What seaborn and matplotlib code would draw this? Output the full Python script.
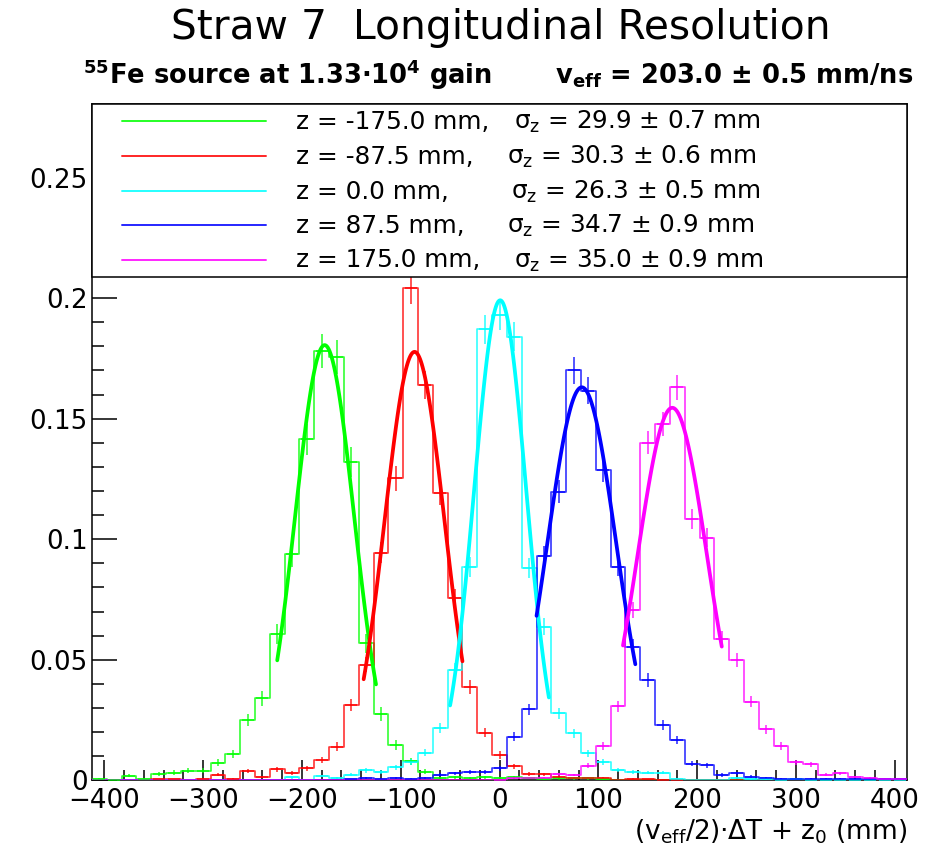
import numpy as np
import pandas as pd
import matplotlib
matplotlib.use("Agg")
import matplotlib.pyplot as plt
import seaborn as sns
from matplotlib.ticker import MultipleLocator, FixedLocator, FixedFormatter
from matplotlib.patches import Rectangle
from matplotlib.lines import Line2D

# ---------------- data ----------------
bin_low, bin_high, n_bins = -412.5, 412.5, 55

z_positions = [-175.0, -87.5, 0.0, 87.5, 175.0]
series_colors = ["#00ff00", "#ff0000", "#00ffff", "#0000ff", "#ff00ff"]

green_vals = [0.0007, 0.0003, 0.0019, 0.0007, 0.0026, 0.0032, 0.0040, 0.0040, 0.0073, 0.0110,
              0.0250, 0.0340, 0.0605, 0.0937, 0.1414, 0.1780, 0.1757, 0.1320, 0.0568, 0.0274,
              0.0145, 0.0078, 0.0035, 0.0008, 0.0012, 0.0010, 0.0012, 0.0010, 0.0012, 0.0010,
              0.0005, 0.0008, 0.0008, 0.0008, 0.0006, 0.0, 0.0, 0.0, 0.0, 0.0,
              0.0, 0.0, 0.0, 0.0, 0.0, 0.0, 0.0, 0.0, 0.0, 0.0,
              0.0, 0.0, 0.0, 0.0, 0.0]
red_vals = [0.0, 0.0, 0.0, 0.0, 0.0004, 0.0004, 0.0, 0.0007, 0.0023, 0.0007,
            0.0037, 0.0013, 0.0046, 0.0032, 0.0050, 0.0083, 0.0140, 0.0312, 0.0480, 0.0944,
            0.1252, 0.2040, 0.1640, 0.1190, 0.0755, 0.0388, 0.0198, 0.0105, 0.0058, 0.0026,
            0.0025, 0.0015, 0.0010, 0.0010, 0.0010, 0.0, 0.0007, 0.0004, 0.0003, 0.0003,
            0.0, 0.0, 0.0, 0.0, 0.0, 0.0, 0.0, 0.0, 0.0, 0.0,
            0.0, 0.0, 0.0, 0.0, 0.0]
cyan_vals = [0.0, 0.0, 0.0, 0.0, 0.0, 0.0, 0.0, 0.0, 0.0, 0.0,
             0.0, 0.0, 0.0, 0.0012, 0.0, 0.0018, 0.0008, 0.0023, 0.0041, 0.0036,
             0.0055, 0.0077, 0.0115, 0.0216, 0.0457, 0.0886, 0.1870, 0.1930, 0.1840, 0.0879,
             0.0637, 0.0278, 0.0195, 0.0112, 0.0077, 0.0043, 0.0033, 0.0032, 0.0032, 0.0007,
             0.0, 0.0, 0.0, 0.0008, 0.0004, 0.0004, 0.0003, 0.0004, 0.0003, 0.0003,
             0.0003, 0.0003, 0.0003, 0.0003, 0.0003]
blue_vals = [0.0, 0.0, 0.0, 0.0, 0.0, 0.0, 0.0, 0.0, 0.0, 0.0,
             0.0, 0.0, 0.0, 0.0, 0.0, 0.0, 0.0, 0.0004, 0.0009, 0.0004,
             0.0008, 0.0007, 0.0011, 0.0023, 0.0029, 0.0036, 0.0033, 0.0050, 0.0180, 0.0294,
             0.0930, 0.1197, 0.1700, 0.1616, 0.1287, 0.0886, 0.0554, 0.0416, 0.0230, 0.0167,
             0.0069, 0.0062, 0.0022, 0.0029, 0.0015, 0.0011, 0.0007, 0.0007, 0.0007, 0.0007,
             0.0007, 0.0004, 0.0004, 0.0007, 0.0005]
magenta_vals = [0.0, 0.0, 0.0, 0.0, 0.0, 0.0, 0.0, 0.0, 0.0, 0.0,
                0.0, 0.0, 0.0, 0.0, 0.0, 0.0, 0.0, 0.0, 0.0, 0.0,
                0.0, 0.0, 0.0, 0.0, 0.0, 0.0, 0.0, 0.0003, 0.0010, 0.0010,
                0.0010, 0.0025, 0.0022, 0.0060, 0.0142, 0.0308, 0.0706, 0.1400, 0.1476, 0.1630,
                0.1083, 0.1007, 0.0586, 0.0499, 0.0326, 0.0211, 0.0142, 0.0075, 0.0066, 0.0024,
                0.0029, 0.0013, 0.0009, 0.0004, 0.0007]

# entries per histogram (sets Poisson error bar size)
entries = [3500, 4800, 5200, 5400, 6000]

# Gaussian fit results
fit_amp = [0.1805, 0.1777, 0.1991, 0.1630, 0.1545]
fit_mean = [-177.0, -86.0, 0.7, 83.3, 174.9]
fit_sigma = [29.9, 30.3, 26.3, 34.7, 35.0]
fit_sigma_err = [0.7, 0.6, 0.5, 0.9, 0.9]
fit_halfrange = 50.0

v_eff, v_eff_err = 203.0, 0.5

x_ticks = [-400, -300, -200, -100, 0, 100, 200, 300, 400]
x_ticklabels = ["\u2212400", "\u2212300", "\u2212200", "\u2212100", "0", "100", "200", "300", "400"]
y_ticks = [0.0, 0.05, 0.10, 0.15, 0.20, 0.25]
y_ticklabels = ["0", "0.05", "0.1", "0.15", "0.2", "0.25"]

all_vals = [green_vals, red_vals, cyan_vals, blue_vals, magenta_vals]

# ---------------- style ----------------
sns.set_style("ticks")
plt.rcParams["font.family"] = ["DejaVu Sans"]
plt.rcParams["mathtext.fontset"] = "dejavusans"
plt.rcParams["text.color"] = "black"
plt.rcParams["axes.labelcolor"] = "black"
plt.rcParams["xtick.color"] = "black"
plt.rcParams["ytick.color"] = "black"
plt.rcParams["xtick.labelcolor"] = "black"
plt.rcParams["ytick.labelcolor"] = "black"

W, H = 941, 849
fig = plt.figure(figsize=(W / 100, H / 100), dpi=100)
fig.patch.set_facecolor("white")


def fx(px):
    return px / W


def fy(py):
    return 1 - py / H


ax_l, ax_r, ax_t, ax_b = 92, 907, 104, 780.3
ax = fig.add_axes([fx(ax_l), fy(ax_b), (ax_r - ax_l) / W, (ax_b - ax_t) / H])
ax.set_facecolor("white")

edges = np.linspace(bin_low, bin_high, n_bins + 1)
centers = 0.5 * (edges[:-1] + edges[1:])

for vals, col, n_ent, A, mu, sig, z in zip(all_vals, series_colors, entries,
                                            fit_amp, fit_mean, fit_sigma, z_positions):
    v = np.asarray(vals, dtype=float)
    df = pd.DataFrame({"pos": centers, "frac": v})
    sns.histplot(data=df, x="pos", weights="frac", bins=list(edges), element="step",
                 fill=False, color=col, linewidth=1.2, alpha=0.8, ax=ax, zorder=3)
    m = v > 0
    err = np.sqrt(v[m] / n_ent)
    ax.errorbar(centers[m], v[m], yerr=err, fmt="_", ms=8, mew=1.1,
                color=col, elinewidth=1.1, capsize=0, alpha=0.85, zorder=3)
    xs = np.linspace(z - fit_halfrange, z + fit_halfrange, 120)
    ys = A * np.exp(-0.5 * ((xs - mu) / sig) ** 2)
    sns.lineplot(x=xs, y=ys, color=col, linewidth=2.7, ax=ax, zorder=4,
                 estimator=None, sort=False)

ax.set_xlim(bin_low, bin_high)
ax.set_ylim(0, 0.2805)
ax.set_ylabel("")

ax.xaxis.set_major_locator(FixedLocator(x_ticks))
ax.xaxis.set_major_formatter(FixedFormatter(x_ticklabels))
ax.xaxis.set_minor_locator(MultipleLocator(20))
ax.yaxis.set_major_locator(FixedLocator(y_ticks))
ax.yaxis.set_major_formatter(FixedFormatter(y_ticklabels))
ax.yaxis.set_minor_locator(MultipleLocator(0.01))

ax.tick_params(axis="x", which="major", direction="in", length=14.4, width=1.1,
               labelsize=18.8, pad=5.5, color="black", labelcolor="black")
ax.tick_params(axis="x", which="minor", direction="in", length=7.2, width=1.1, color="black")
ax.tick_params(axis="y", which="major", direction="in", length=18, width=1.1,
               labelsize=18.8, pad=3, color="black", labelcolor="black")
ax.tick_params(axis="y", which="minor", direction="in", length=8.6, width=1.1, color="black")
for s in ax.spines.values():
    s.set_visible(True)
    s.set_linewidth(1.1)
    s.set_color("black")

ax.set_xlabel(r"(v$_{\mathrm{eff}}$/2)·ΔT + z$_{0}$ (mm)", fontsize=19.0, loc="right",
              color="black")
ax.xaxis.set_label_coords(1.0, (ax_b - 840) / (ax_b - ax_t))
ax.xaxis.label.set_va("baseline")
ax.xaxis.label.set_ha("right")

# ---------------- legend box ----------------
leg_bottom = 277
yb = (ax_b - leg_bottom) / (ax_b - ax_t)
ax.add_patch(Rectangle((0, yb), 1, 1 - yb, transform=ax.transAxes, facecolor="white",
                       edgecolor="black", lw=1.1, zorder=10, clip_on=False))

row_line_y = [121, 155.7, 190.5, 225, 259.7]
row_base_y = [129, 164, 198.5, 233, 267.5]
sigma_x = [514, 507, 511, 507, 514]
for col, z, s, e, ly, by, sx in zip(series_colors, z_positions, fit_sigma, fit_sigma_err,
                                    row_line_y, row_base_y, sigma_x):
    fig.add_artist(Line2D([fx(122), fx(266)], [fy(ly), fy(ly)], color=col, lw=1.4,
                          alpha=0.85, transform=fig.transFigure, zorder=11))
    fig.text(fx(296), fy(by), f"z = {z:.1f} mm,", fontsize=17.8, ha="left",
             va="baseline", zorder=11, color="black")
    fig.text(fx(sx), fy(by), r"$\mathrm{\sigma_{z}}$" + f" = {s:.1f} \u00b1 {e:.1f} mm",
             fontsize=17.8, ha="left", va="baseline", zorder=11, color="black")

# ---------------- titles ----------------
fig.text(fx(501), fy(39.5), "Straw 7  Longitudinal Resolution", fontsize=29.3,
         ha="center", va="baseline", color="black")
fig.text(fx(83), fy(83.5), r"$^{\mathbf{55}}$Fe source at 1.33·10$^{\mathbf{4}}$ gain",
         fontsize=18.5, fontweight="bold", ha="left", va="baseline", color="black")
fig.text(fx(555), fy(83.5),
         r"v$_{\mathbf{eff}}$" + f" = {v_eff:.1f} \u00b1 {v_eff_err:.1f} mm/ns",
         fontsize=18.5, fontweight="bold", ha="left", va="baseline", color="black")

fig.savefig("out.png", dpi=100, facecolor="white")
